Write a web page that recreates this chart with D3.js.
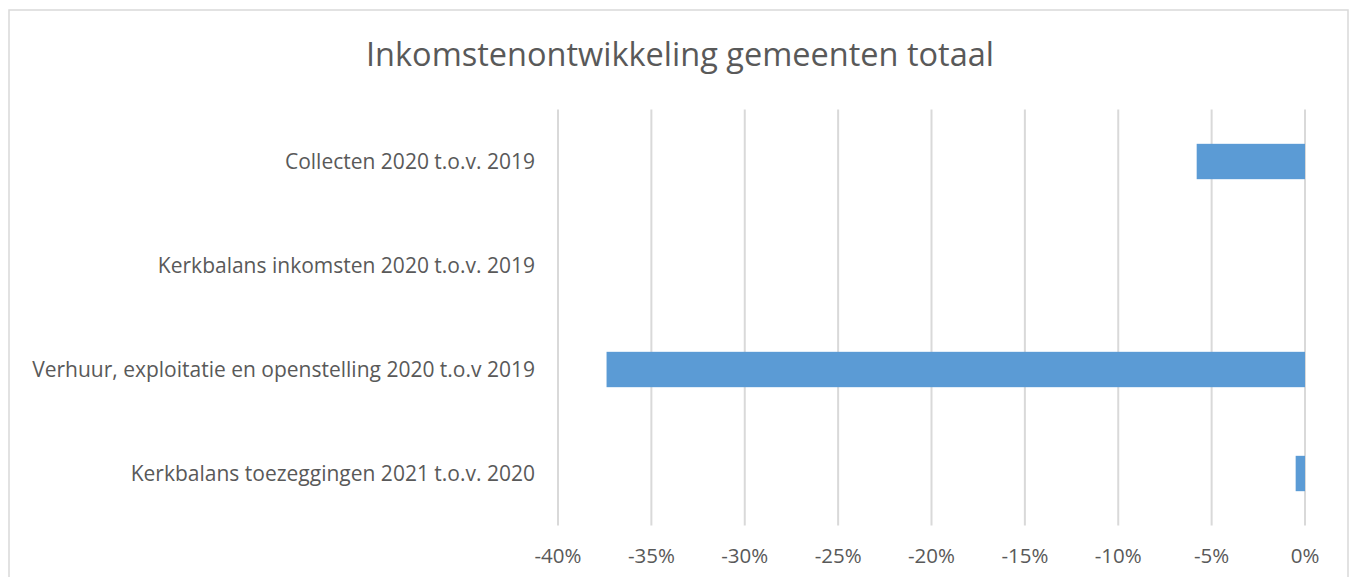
<!DOCTYPE html>
<html>
<head>
<meta charset="utf-8">
<script src="https://cdn.jsdelivr.net/npm/d3@7"></script>
<style>
  body { margin: 0; background: #fff; }
  text { font-family: "Open Sans", "Noto Sans", sans-serif; fill: #595959; }
</style>
</head>
<body>
<div id="chart"></div>
<script>
// Data arrays
let categories = [
  "Collecten 2020 t.o.v. 2019",
  "Kerkbalans inkomsten 2020 t.o.v. 2019",
  "Verhuur, exploitatie en openstelling 2020 t.o.v 2019",
  "Kerkbalans toezeggingen 2021 t.o.v. 2020"
];
let values = [-0.058, 0, -0.374, -0.005];
let tickValues = [-0.40, -0.35, -0.30, -0.25, -0.20, -0.15, -0.10, -0.05, 0];
let title = "Inkomstenontwikkeling gemeenten totaal";

let width = 1354, height = 577;

let svg = d3.select("#chart")
  .append("svg")
  .attr("width", width)
  .attr("height", height);

// chart frame
svg.append("rect")
  .attr("x", 9).attr("y", 10)
  .attr("width", 1339).attr("height", 600)
  .attr("fill", "none")
  .attr("stroke", "#d9d9d9")
  .attr("stroke-width", 1.5);

let x = d3.scaleLinear()
  .domain([-0.40, 0])
  .range([558, 1305]);

let y = d3.scaleBand()
  .domain(categories)
  .range([109.5, 525.5])
  .paddingInner(0.66)
  .paddingOuter(0.33);

// gridlines
svg.selectAll(".grid")
  .data(tickValues)
  .enter()
  .append("line")
  .attr("x1", d => x(d)).attr("x2", d => x(d))
  .attr("y1", 109.5).attr("y2", 525.5)
  .attr("stroke", "#d9d9d9")
  .attr("stroke-width", 2);

// bars
svg.selectAll(".bar")
  .data(values)
  .enter()
  .append("rect")
  .attr("x", d => x(Math.min(d, 0)))
  .attr("y", (d, i) => y(categories[i]))
  .attr("width", d => Math.abs(x(d) - x(0)))
  .attr("height", y.bandwidth())
  .attr("fill", "#5b9bd5");

// x tick labels
svg.selectAll(".xlab")
  .data(tickValues)
  .enter()
  .append("text")
  .attr("x", d => x(d))
  .attr("y", 556)
  .attr("dy", "0.35em")
  .attr("text-anchor", "middle")
  .attr("font-size", 20.5)
  .text(d => d3.format(".0%")(d).replace("−", "-"));

// category labels
svg.selectAll(".ylab")
  .data(categories)
  .enter()
  .append("text")
  .attr("x", 535)
  .attr("y", d => y(d) + y.bandwidth() / 2)
  .attr("dy", "0.35em")
  .attr("text-anchor", "end")
  .attr("font-size", 21)
  .text(d => d);

// title
svg.append("text")
  .attr("x", 680)
  .attr("y", 55)
  .attr("dy", "0.35em")
  .attr("text-anchor", "middle")
  .attr("font-size", 32.5)
  .text(title);
</script>
</body>
</html>
